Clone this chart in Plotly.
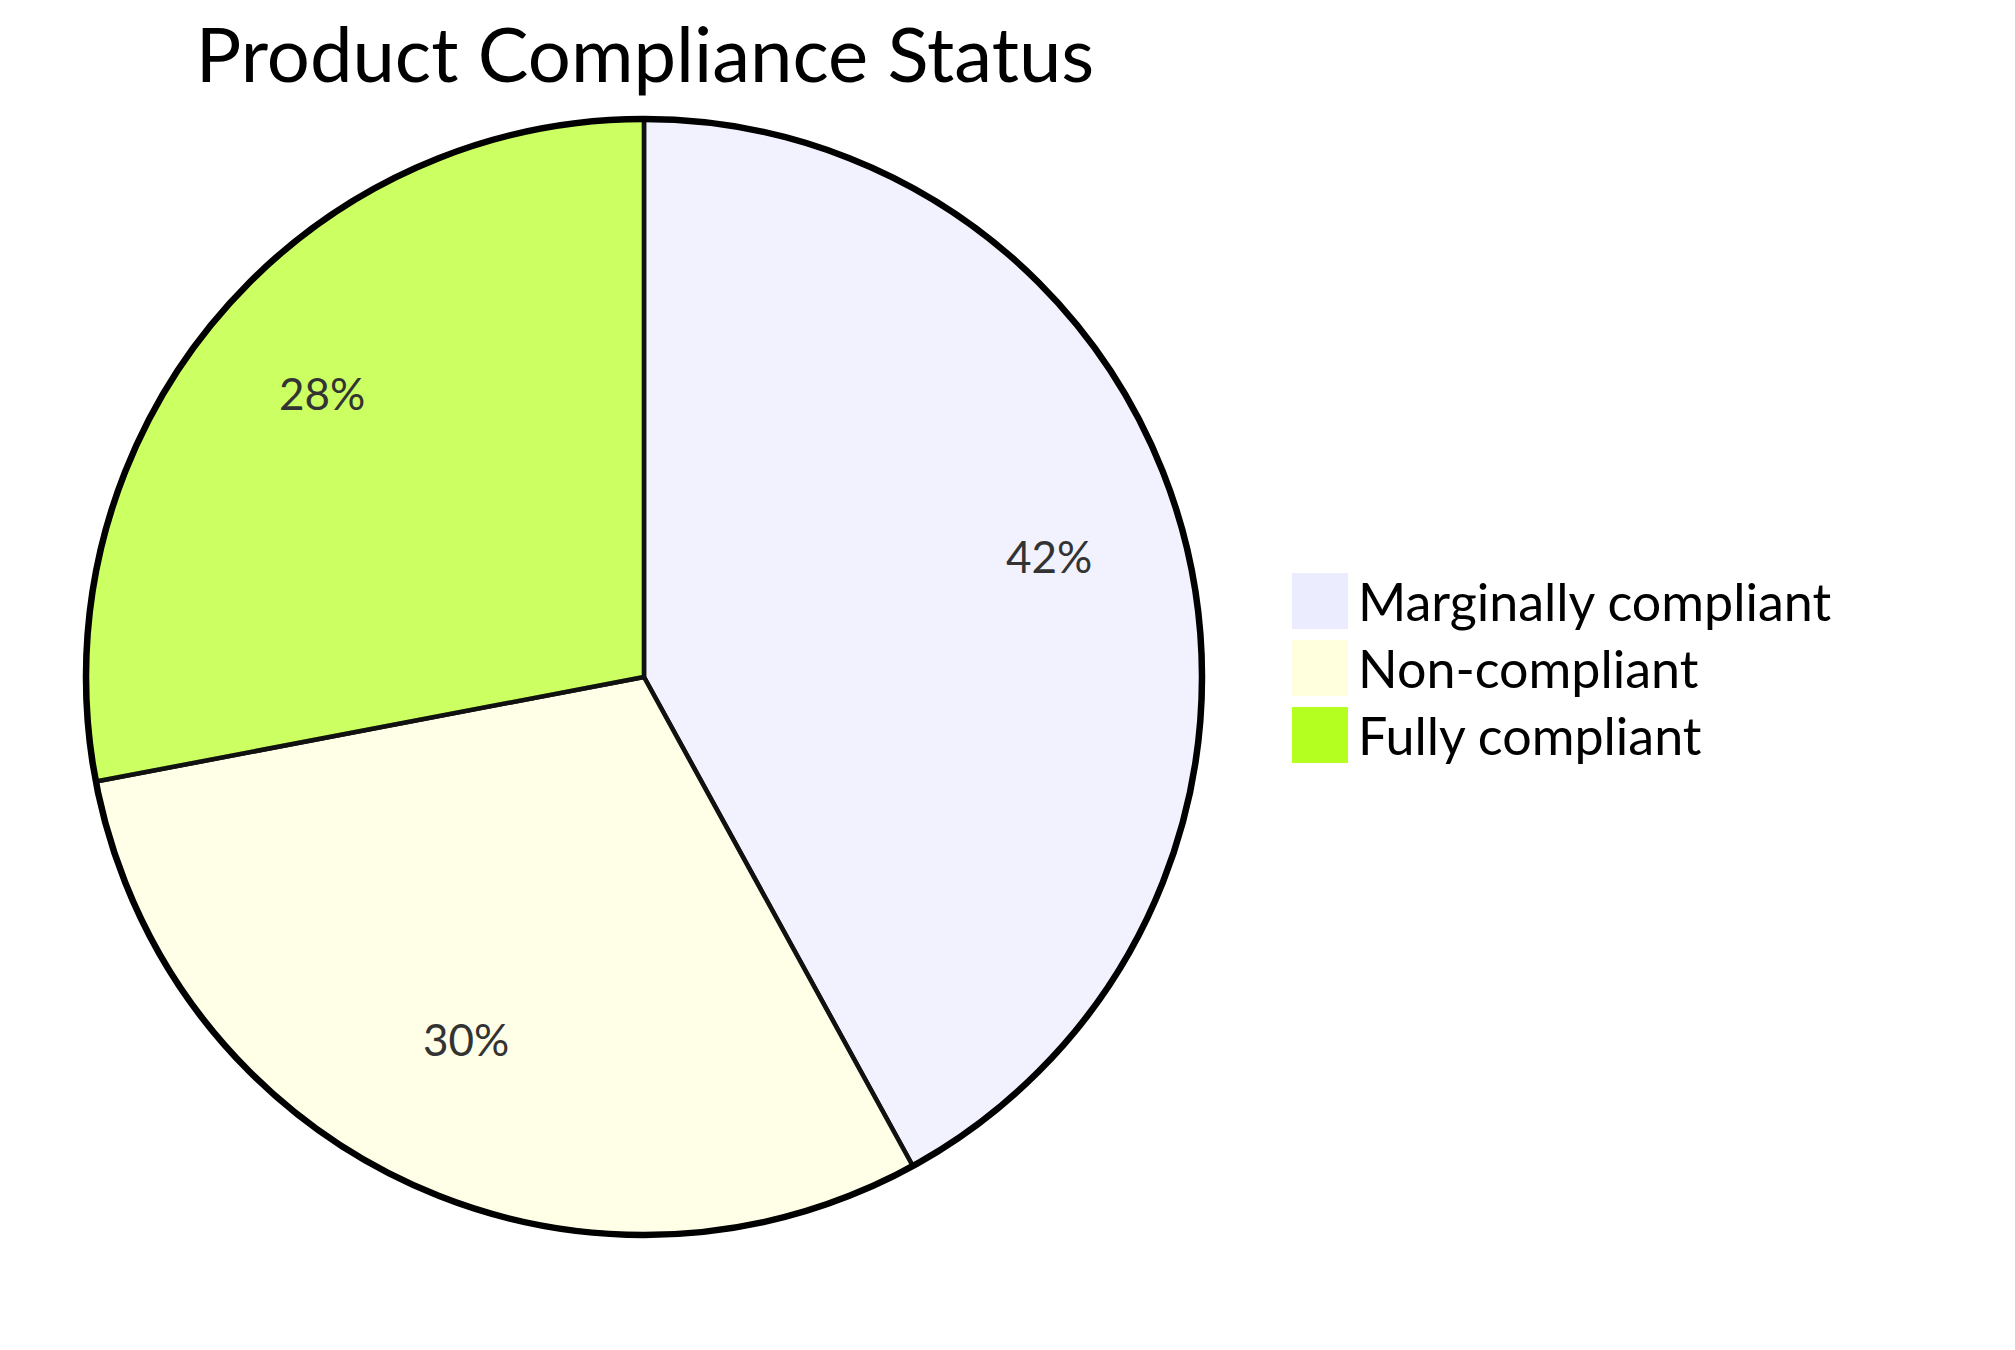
import numpy as np
import plotly.graph_objects as go

# Slice data
labels = ["Marginally compliant", "Non-compliant", "Fully compliant"]
values = [42, 30, 28]
legend_colors = ["#ECECFF", "#FFFFDE", "#B5FF20"]
slice_colors = ["rgba(236,236,255,0.7)", "rgba(255,255,222,0.7)", "rgba(181,255,32,0.7)"]

W, H = 2015, 1350
font_family = "Lato, 'Open Sans', sans-serif"

# pie placement in pixels (centre and radius)
cx_px, cy_px, r_px = 636, 669, 558
dom_x = [(cx_px - r_px) / W, (cx_px + r_px) / W]
dom_y = [1 - (cy_px + r_px) / H, 1 - (cy_px - r_px) / H]

pie = go.Pie(
    labels=labels,
    values=values,
    sort=False,
    direction="clockwise",
    rotation=0,
    marker=dict(colors=slice_colors, line=dict(color="#111111", width=4.5)),
    textinfo="none",
    domain=dict(x=dom_x, y=dom_y),
    showlegend=False,
    hoverinfo="label+percent",
)

# thicker outer ring: one slice holding the total
outer = go.Pie(
    values=[sum(values)],
    labels=["total"],
    sort=False,
    marker=dict(colors=["rgba(0,0,0,0)"], line=dict(color="#000000", width=6.5)),
    textinfo="none",
    domain=dict(x=dom_x, y=dom_y),
    showlegend=False,
    hoverinfo="skip",
)

fig = go.Figure(data=[pie, outer])

# percentage labels at 3/4 of the radius, on each slice's middle angle
frac = np.array(values) / sum(values)
mid = (np.cumsum(frac) - frac / 2) * 2 * np.pi
annotations = []
for f, a in zip(frac, mid):
    annotations.append(dict(
        text=f"{f:.0%}", xref="paper", yref="paper",
        x=(cx_px + 0.75 * r_px * np.sin(a)) / W,
        y=1 - (cy_px - 0.75 * r_px * np.cos(a)) / H,
        xanchor="center", yanchor="middle", yshift=17, showarrow=False,
        font=dict(size=44, color="#333333", family=font_family),
    ))

# Legend drawn by hand so the colour squares are as big as in the reference
shapes = []
box = 56
row_gap = 67
top0 = 565
for i, (name, col) in enumerate(zip(labels, legend_colors)):
    top = top0 + i * row_gap
    shapes.append(dict(
        type="rect", xref="paper", yref="paper",
        x0=1284 / W, x1=(1284 + box) / W,
        y0=1 - (top + box) / H, y1=1 - top / H,
        fillcolor=col, line=dict(width=0),
    ))
    annotations.append(dict(
        text=name, xref="paper", yref="paper",
        x=1348 / W, y=1 - (top + box / 2) / H,
        xanchor="left", yanchor="middle", showarrow=False,
        font=dict(size=52, color="#000000", family=font_family),
    ))

fig.update_layout(
    width=W,
    height=H,
    margin=dict(l=0, r=0, t=0, b=0),
    paper_bgcolor="white",
    plot_bgcolor="white",
    title=dict(
        text="Product Compliance Status",
        x=637 / W, xanchor="center",
        y=1 - 47 / H, yanchor="middle",
        font=dict(size=76, color="#000000", family=font_family),
    ),
    shapes=shapes,
    annotations=annotations,
)

fig.write_html("out.html")
